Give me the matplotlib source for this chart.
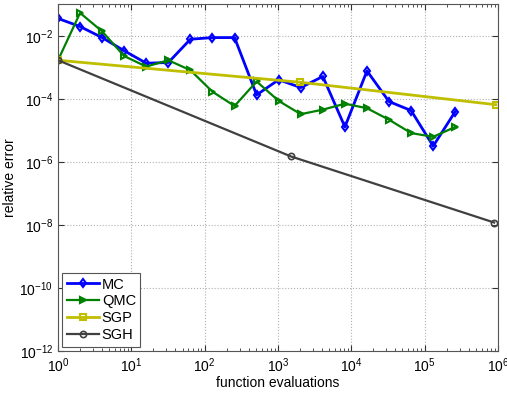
import matplotlib
matplotlib.use("Agg")
import matplotlib.pyplot as plt
from matplotlib.ticker import LogLocator, NullLocator, FixedLocator

plt.rcParams['font.family'] = ['Liberation Sans', 'DejaVu Sans']

# function evaluations for the sampling methods (powers of two)
n_mc = [1, 2, 4, 8, 16, 32, 64, 128, 256, 512, 1024, 2048, 4096, 8192,
        16384, 32768, 65536, 131072, 262144]
err_mc = [3.6e-2, 2.0e-2, 8.9e-3, 3.4e-3, 1.37e-3, 1.44e-3, 7.9e-3, 8.9e-3,
          8.9e-3, 1.35e-4, 4.1e-4, 2.3e-4, 5.2e-4, 1.3e-5, 7.8e-4, 8.3e-5,
          4.3e-5, 3.2e-6, 4.0e-5]
err_qmc = [1.7e-3, 5.4e-2, 1.4e-2, 2.3e-3, 1.07e-3, 1.7e-3, 8.2e-4, 1.7e-4,
           6.0e-5, 3.6e-4, 8.7e-5, 3.3e-5, 4.6e-5, 7.1e-5, 5.1e-5, 2.2e-5,
           8.3e-6, 6.3e-6, 1.3e-5]

# sparse grids
n_sgp = [1, 2017, 9.4e5]
err_sgp = [1.7e-3, 3.4e-4, 6.6e-5]
n_sgh = [1, 1510, 8.9e5]
err_sgh = [1.7e-3, 1.5e-6, 1.2e-8]

fig = plt.figure(figsize=(5.07, 3.94), dpi=100)
ax = fig.add_axes([0.1144, 0.109, 0.8676, 0.8796])

ax.loglog(n_mc, err_mc, '-d', color='#0000ff', lw=2, ms=4.5,
          mfc='none', mew=1.5, label='MC')
ax.loglog(n_mc, err_qmc, '->', color='#008000', lw=1.6, ms=5,
          mfc='none', mew=1.5, label='QMC')
ax.loglog(n_sgp, err_sgp, '-s', color='#bfbf00', lw=2, ms=4.5,
          mfc='none', mew=1.5, label='SGP')
ax.loglog(n_sgh, err_sgh, '-o', color='#404040', lw=1.6, ms=4.5,
          mfc='none', mew=1.2, label='SGH')

ax.set_xlim(1, 1e6)
ax.set_ylim(1e-12, 1e-1)
ax.xaxis.set_major_locator(LogLocator(base=10, numticks=10))
ax.xaxis.set_minor_locator(LogLocator(base=10, subs=range(2, 10), numticks=10))
ax.yaxis.set_major_locator(FixedLocator([1e-12, 1e-10, 1e-8, 1e-6, 1e-4, 1e-2]))
ax.yaxis.set_minor_locator(NullLocator())

ax.grid(True, which='major', linestyle=':', color='#b0b0b0', linewidth=0.8)
ax.tick_params(which='both', direction='in', top=True, right=True,
               labelsize=10, colors='#333333', labelcolor='black')
ax.tick_params(which='major', length=4)
ax.tick_params(which='minor', length=2.5)
for s in ax.spines.values():
    s.set_color('#555555')

ax.set_xlabel('function evaluations', fontsize=10, labelpad=1)
ax.set_ylabel('relative error', fontsize=10, labelpad=2)

leg = ax.legend(loc='lower left', fontsize=10.5, fancybox=False, framealpha=1,
                edgecolor='#555555', handlelength=2.2, borderpad=0.3,
                labelspacing=0.2, handletextpad=0.2, borderaxespad=0.3)
leg.get_frame().set_linewidth(0.8)

fig.savefig('out.png', dpi=100)
